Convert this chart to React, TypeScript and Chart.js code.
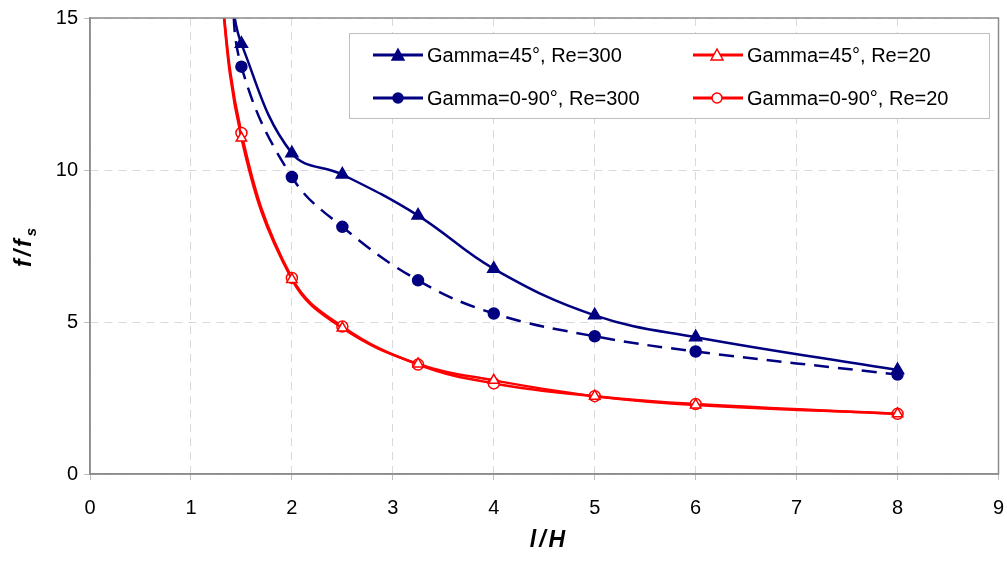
import React, { useEffect, useRef } from "react";
import { Chart, registerables } from "chart.js";

Chart.register(...registerables);

// l/H positions (first entries lie above the plotted range and are clipped)
const xRe300 = [1.4, 1.5, 2, 2.5, 3.25, 4, 5, 6, 8];
const xRe300b = [1.4, 1.5, 2, 2.5, 3.25, 4, 5, 6, 8];
const xRe20 = [1.25, 1.5, 2, 2.5, 3.25, 4, 5, 6, 8];

const g45Re300 = [15.6, 14.15, 10.55, 9.85, 8.5, 6.75, 5.22, 4.5, 3.42];
const g090Re300 = [16.6, 13.4, 9.77, 8.13, 6.37, 5.28, 4.53, 4.03, 3.27];
const g45Re20 = [17.5, 11.05, 6.4, 4.8, 3.62, 3.08, 2.56, 2.27, 1.98];
const g090Re20 = [17.5, 11.22, 6.45, 4.85, 3.6, 2.98, 2.56, 2.3, 1.98];

const seriesLabels = [
  "Gamma=45°, Re=300",
  "Gamma=0-90°, Re=300",
  "Gamma=45°, Re=20",
  "Gamma=0-90°, Re=20",
];

const xTicks = [0, 1, 2, 3, 4, 5, 6, 7, 8, 9];
const yTicks = [0, 5, 10, 15];

const NAVY = "#000080";
const RED = "#ff0000";
const FONT = "'Liberation Sans', Arial, sans-serif";

const toPts = (xs: number[], ys: number[]) => xs.map((x, i) => ({ x, y: ys[i] }));
const radii = (n: number, r: number) => Array.from({ length: n }, (_, i) => (i === 0 ? 0 : r));

export default function App() {
  const ref = useRef<HTMLCanvasElement | null>(null);

  useEffect(() => {
    document.body.style.margin = "0";
    const canvas = ref.current;
    if (!canvas) return;

    const frame = {
      id: "frame",
      afterDraw(chart: any) {
        const { ctx, chartArea: a } = chart;
        ctx.save();
        ctx.strokeStyle = "#8c8c8c";
        ctx.lineWidth = 1.5;
        ctx.strokeRect(a.left, a.top, a.right - a.left, a.bottom - a.top);

        // axis titles
        ctx.fillStyle = "#000";
        ctx.font = `italic bold 23px ${FONT}`;
        ctx.textAlign = "center";
        ctx.textBaseline = "middle";
        try { (ctx as any).letterSpacing = "3px"; } catch (e) {}
        ctx.fillText("l/H", 549, 541);

        ctx.translate(25, (a.top + a.bottom) / 2);
        ctx.rotate(-Math.PI / 2);
        const main = "f/f";
        ctx.font = `italic bold 23px ${FONT}`;
        const w1 = ctx.measureText(main).width;
        ctx.font = `italic bold 15px ${FONT}`;
        const w2 = ctx.measureText("s").width;
        const start = -(w1 + w2) / 2;
        ctx.textAlign = "left";
        ctx.textBaseline = "alphabetic";
        ctx.font = `italic bold 23px ${FONT}`;
        ctx.fillText(main, start, 6);
        try { (ctx as any).letterSpacing = "0px"; } catch (e) {}
        ctx.font = `italic bold 15px ${FONT}`;
        ctx.fillText("s", start + w1, 11);
        ctx.restore();

        // legend
        ctx.save();
        ctx.fillStyle = "#fff";
        ctx.fillRect(349, 33, 640, 85);
        ctx.strokeStyle = "#bfbfbf";
        ctx.lineWidth = 1;
        ctx.strokeRect(349.5, 33.5, 640, 85);
        const items = [
          { c: NAVY, s: "triangle", fill: NAVY, lx: 373, mx: 398, tx: 427, y: 55, lbl: seriesLabels[0] },
          { c: NAVY, s: "circle", fill: NAVY, lx: 373, mx: 398, tx: 427, y: 98, lbl: seriesLabels[1] },
          { c: RED, s: "triangle", fill: "#fff", lx: 693, mx: 717, tx: 747, y: 55, lbl: seriesLabels[2] },
          { c: RED, s: "circle", fill: "#fff", lx: 693, mx: 717, tx: 747, y: 98, lbl: seriesLabels[3] },
        ];
        for (const it of items) {
          ctx.strokeStyle = it.c;
          ctx.lineWidth = 3;
          ctx.beginPath();
          ctx.moveTo(it.lx, it.y);
          ctx.lineTo(it.lx + 50, it.y);
          ctx.stroke();
          ctx.fillStyle = it.fill;
          ctx.lineWidth = 1.5;
          ctx.beginPath();
          if (it.s === "circle") {
            ctx.arc(it.mx, it.y, 5, 0, Math.PI * 2);
          } else {
            ctx.moveTo(it.mx, it.y - 6);
            ctx.lineTo(it.mx + 6, it.y + 5);
            ctx.lineTo(it.mx - 6, it.y + 5);
            ctx.closePath();
          }
          ctx.fill();
          ctx.stroke();
          ctx.fillStyle = "#000";
          ctx.font = `20px ${FONT}`;
          ctx.textAlign = "left";
          ctx.textBaseline = "middle";
          ctx.fillText(it.lbl, it.tx, it.y + 1);
        }
        ctx.restore();
      },
    };

    const common = {
      borderWidth: 2.5,
      tension: 0.4,
      fill: false,
      showLine: true,
      pointBorderWidth: 1.5,
    };

    const chart = new Chart(canvas, {
      type: "scatter",
      data: {
        datasets: [
          {
            ...common,
            label: seriesLabels[0],
            data: toPts(xRe300, g45Re300),
            borderColor: NAVY,
            backgroundColor: NAVY,
            pointStyle: "triangle",
            pointRadius: radii(xRe300.length, 7),
          },
          {
            ...common,
            label: seriesLabels[1],
            data: toPts(xRe300b, g090Re300),
            borderColor: NAVY,
            backgroundColor: NAVY,
            borderDash: [15, 9],
            pointStyle: "circle",
            pointRadius: radii(xRe300b.length, 5.5),
          },
          {
            ...common,
            label: seriesLabels[2],
            data: toPts(xRe20, g45Re20),
            borderColor: RED,
            backgroundColor: "#fff",
            pointStyle: "triangle",
            pointRadius: radii(xRe20.length, 6),
          },
          {
            ...common,
            label: seriesLabels[3],
            data: toPts(xRe20, g090Re20),
            borderColor: RED,
            backgroundColor: "#fff",
            pointStyle: "circle",
            pointRadius: radii(xRe20.length, 5.5),
          },
        ] as any,
      },
      options: {
        responsive: false,
        animation: false,
        layout: { padding: { top: 18, right: 3, left: 0, bottom: 0 } },
        plugins: { legend: { display: false }, tooltip: { enabled: false } },
        scales: {
          x: {
            type: "linear",
            min: 0,
            max: 9,
            afterFit: (s: any) => { s.height = 88; s.paddingRight = 0; s.paddingLeft = 0; },
            afterBuildTicks: (s: any) => { s.ticks = xTicks.map((v) => ({ value: v })); },
            ticks: {
              color: "#000",
              font: { family: FONT, size: 20 },
              padding: 16,
              maxRotation: 0,
            },
            grid: {
              color: "#d9d9d9",
              lineWidth: 1,
              tickLength: 6,
              tickColor: "#bfbfbf",
              tickBorderDash: [],
            },
            border: { color: "#8c8c8c", width: 1.5, dash: [8, 6] },
          },
          y: {
            type: "linear",
            min: 0,
            max: 15,
            afterFit: (s: any) => { s.width = 90; s.paddingTop = 0; s.paddingBottom = 0; },
            afterBuildTicks: (s: any) => { s.ticks = yTicks.map((v) => ({ value: v })); },
            ticks: {
              color: "#000",
              font: { family: FONT, size: 20 },
              padding: 6,
            },
            grid: {
              color: "#d9d9d9",
              lineWidth: 1,
              tickLength: 6,
              tickColor: "#bfbfbf",
              tickBorderDash: [],
            },
            border: { color: "#8c8c8c", width: 1.5, dash: [8, 6] },
          },
        },
      },
      plugins: [frame],
    } as any);

    return () => chart.destroy();
  }, []);

  return (
    <div style={{ width: 1007, height: 562, background: "#fff" }}>
      <canvas ref={ref} width={1007} height={562} style={{ display: "block" }} />
    </div>
  );
}
